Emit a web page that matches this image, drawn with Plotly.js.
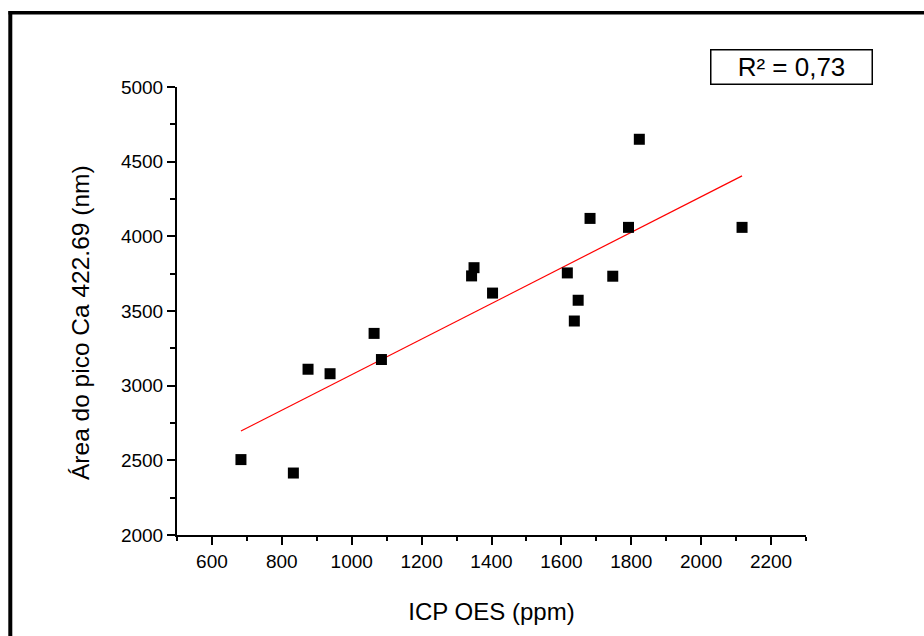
<!DOCTYPE html>
<html>
<head>
<meta charset="utf-8">
<script src="https://cdn.plot.ly/plotly-3.0.1.min.js"></script>
<style>
  html, body { margin: 0; padding: 0; background: #ffffff; overflow: hidden; }
  #chart { width: 924px; height: 636px; }
</style>
</head>
<body>
<div id="chart"></div>
<script>
// ICP OES (ppm) values
const icpOes = [683, 833, 875, 938, 1064, 1085, 1343, 1350, 1403, 1617, 1637, 1648, 1682, 1747, 1792, 1823, 2117];
// Área do pico Ca 422.69 (nm)
const areaPico = [2505, 2415, 3110, 3080, 3350, 3175, 3735, 3790, 3620, 3755, 3433, 3572, 4120, 3733, 4060, 4650, 4060];
const xTickVals = [600, 800, 1000, 1200, 1400, 1600, 1800, 2000, 2200];
const yTickVals = [2000, 2500, 3000, 3500, 4000, 4500, 5000];
const r2Label = "R² = 0,73";

// linear least-squares fit from the data
const n = icpOes.length;
const mx = icpOes.reduce((a, b) => a + b, 0) / n;
const my = areaPico.reduce((a, b) => a + b, 0) / n;
let sxy = 0, sxx = 0;
for (let i = 0; i < n; i++) {
  sxy += (icpOes[i] - mx) * (areaPico[i] - my);
  sxx += (icpOes[i] - mx) * (icpOes[i] - mx);
}
const slope = sxy / sxx;
const intercept = my - slope * mx;
const fitX = [Math.min(...icpOes), Math.max(...icpOes)];
const fitY = fitX.map(v => intercept + slope * v);

const W = 924, H = 636;
const M = { l: 177, r: 118, t: 87, b: 101 };
const pw = W - M.l - M.r, ph = H - M.t - M.b;
const px2x = p => (p - M.l) / pw;
const px2y = p => (H - M.b - p) / ph;

const font = "Liberation Sans, Arial, Helvetica, sans-serif";

const traces = [
  {
    x: fitX, y: fitY, type: 'scatter', mode: 'lines',
    line: { color: '#ff0000', width: 1.2 },
    hoverinfo: 'skip', showlegend: false
  },
  {
    x: icpOes, y: areaPico, type: 'scatter', mode: 'markers',
    marker: { symbol: 'square', size: 11, color: '#000000' },
    showlegend: false
  }
];

const axisCommon = {
  showline: true, linecolor: '#000000', linewidth: 2,
  showgrid: false, zeroline: false,
  ticks: 'outside', tickcolor: '#000000', tickwidth: 2, ticklen: 8,
  tickfont: { family: font, size: 19, color: '#000000' },
  automargin: false, fixedrange: true
};

const layout = {
  width: W, height: H,
  margin: M,
  paper_bgcolor: '#ffffff', plot_bgcolor: '#ffffff',
  showlegend: false,
  xaxis: Object.assign({}, axisCommon, {
    range: [500, 2300], tickvals: xTickVals,
    minor: { tickvals: [500, 700, 900, 1100, 1300, 1500, 1700, 1900, 2100, 2300], ticks: 'outside', ticklen: 4, tickwidth: 2, tickcolor: '#000000' },
    title: { text: 'ICP OES (ppm)', font: { family: font, size: 24, color: '#000000' }, standoff: 32 }
  }),
  yaxis: Object.assign({}, axisCommon, {
    range: [2000, 5000], tickvals: yTickVals,
    minor: { tickvals: [2250, 2750, 3250, 3750, 4250, 4750], ticks: 'outside', ticklen: 5, tickwidth: 2, tickcolor: '#000000' }
  }),
  annotations: [
    {
      xref: 'paper', yref: 'paper', x: px2x(80), y: px2y(323),
      xanchor: 'center', yanchor: 'middle', textangle: -90, showarrow: false,
      text: 'Área do pico Ca 422.69 (nm)',
      font: { family: font, size: 24.5, color: '#000000' }
    },
    {
      xref: 'paper', yref: 'paper', x: px2x(791.5), y: px2y(67),
      xanchor: 'center', yanchor: 'middle', showarrow: false,
      text: r2Label, width: 160, height: 33, align: 'center', valign: 'middle',
      bordercolor: '#000000', borderwidth: 1.5, borderpad: 0, bgcolor: '#ffffff',
      font: { family: font, size: 26, color: '#000000' }
    }
  ],
  shapes: [
    { type: 'line', xref: 'paper', yref: 'paper', x0: px2x(8.5), x1: px2x(1000), y0: px2y(12.7), y1: px2y(12.7), line: { color: '#000000', width: 3.6 } },
    { type: 'line', xref: 'paper', yref: 'paper', x0: px2x(10.3), x1: px2x(10.3), y0: px2y(11), y1: px2y(700), line: { color: '#000000', width: 4 } }
  ]
};

Plotly.newPlot('chart', traces, layout, { displayModeBar: false, staticPlot: true });
</script>
</body>
</html>
